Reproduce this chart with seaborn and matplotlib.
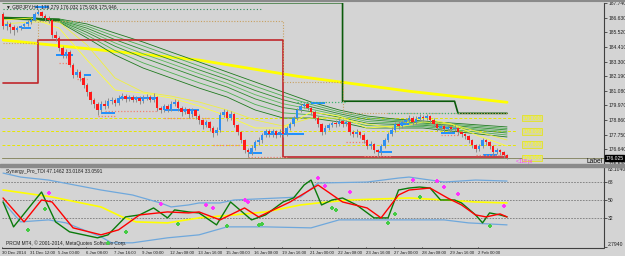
import numpy as np
import pandas as pd
import matplotlib
matplotlib.use("Agg")
import matplotlib.pyplot as plt
import seaborn as sns

sns.set_theme(style="white")
plt.rcParams['font.family'] = ['Liberation Sans', 'DejaVu Sans']

# ---------------- DATA ----------------
first_open = 186.90
closes = [185.99,186.14,185.92,185.69,185.84,185.99,186.14,186.30,186.45,186.90,
          187.06,186.75,186.60,186.45,185.31,185.08,184.32,183.79,184.01,183.03,
          182.27,182.49,182.04,181.51,180.97,180.37,180.06,179.61,180.06,179.91,
          180.29,180.37,180.14,180.52,180.67,180.44,180.59,180.37,180.52,180.29,
          180.52,180.59,180.37,180.59,179.76,179.61,179.91,179.68,180.06,180.21,
          179.76,179.45,179.68,179.30,179.61,179.15,178.84,178.46,178.69,178.24,
          177.86,178.08,179.23,179.45,179.00,179.30,178.46,177.93,177.32,176.56,
          176.41,176.72,177.17,177.32,177.70,178.01,177.78,178.01,177.70,177.93,
          177.78,178.24,178.54,179.00,179.61,179.91,180.06,179.76,179.45,179.00,
          178.54,177.93,178.24,178.46,178.62,178.54,178.77,178.54,178.69,177.93,
          177.78,177.93,177.70,177.32,176.87,177.02,176.56,176.41,176.87,177.32,
          177.78,178.08,178.54,178.39,178.69,178.84,179.00,178.69,178.92,179.07,
          179.00,179.15,178.84,178.54,178.24,178.39,178.16,178.31,178.16,178.24,
          177.93,177.78,177.63,177.32,176.94,176.64,176.87,177.32,177.17,176.87,
          176.41,176.56,176.41,176.18,175.95]
highs = [187.05,186.35,186.30,186.05,186.00,186.10,186.25,186.45,186.60,187.05,
         187.30,187.15,186.90,186.75,186.55,185.60,185.25,184.50,184.25,184.15,
         183.20,182.70,182.65,182.20,181.70,181.10,180.55,180.20,180.30,180.35,
         180.50,180.60,180.55,180.75,180.90,180.85,180.80,180.75,180.70,180.65,
         180.80,180.85,180.75,180.90,180.70,179.95,180.10,180.05,180.30,180.45,
         180.35,179.90,179.85,179.80,179.75,179.70,179.30,178.95,178.90,178.80,
         178.40,178.30,179.45,179.70,179.60,179.55,179.40,178.60,178.05,177.45,
         176.75,176.95,177.35,177.55,177.90,178.20,178.15,178.20,178.10,178.15,
         178.05,178.40,178.75,179.20,179.80,180.10,180.25,180.20,179.95,179.60,
         179.15,178.65,178.45,178.65,178.80,178.85,179.00,178.95,178.90,178.80,
         178.10,178.15,178.05,177.85,177.45,177.25,177.15,176.70,177.05,177.50,
         177.95,178.30,178.75,178.80,178.90,179.05,179.25,179.15,179.15,179.30,
         179.25,179.35,179.25,179.00,178.65,178.60,178.55,178.50,178.45,178.45,
         178.35,178.05,177.90,177.75,177.45,177.05,177.05,177.50,177.45,177.30,
         177.00,176.75,176.70,176.55,176.28]
lows = [185.80,185.70,185.50,185.31,185.55,185.70,185.85,186.00,186.15,186.35,
        186.80,186.60,186.40,186.20,185.10,184.85,184.10,183.55,183.60,182.85,
        182.05,182.10,181.80,181.30,180.70,180.10,179.80,179.23,179.45,179.70,
        179.80,180.10,179.95,180.00,180.40,180.25,180.30,180.20,180.25,180.10,
        180.15,180.35,180.20,180.25,179.55,179.40,179.45,179.50,179.55,179.95,
        179.55,179.20,179.30,179.05,179.10,178.95,178.60,178.20,178.30,178.00,
        177.60,177.70,177.95,179.10,178.80,178.85,178.30,177.75,177.10,176.35,
        176.03,176.25,176.60,177.00,177.15,177.55,177.60,177.60,177.50,177.55,
        177.60,177.65,178.10,178.40,178.90,179.45,179.75,179.60,179.25,178.85,
        178.30,177.70,177.80,178.10,178.35,178.35,178.40,178.35,178.40,177.75,
        177.55,177.60,177.50,177.10,176.65,176.70,176.35,176.03,176.25,176.75,
        177.20,177.65,177.95,178.20,178.25,178.55,178.70,178.50,178.55,178.80,
        178.80,178.85,178.65,178.35,178.05,178.10,177.95,178.00,177.95,178.00,
        177.75,177.60,177.45,177.10,176.75,176.45,176.50,176.75,176.95,176.70,
        176.20,176.30,176.20,175.95,175.93]

# moving-average ribbon, sampled every 8 bars
rib_bars = [0,8,16,24,32,40,48,56,64,72,80,88,96,104,112,120,128,136,144]
rib_1 = [186.60,186.60,186.53,186.15,185.46,184.78,184.02,183.27,182.51,181.75,180.99,180.23,179.63,179.17,178.94,178.79,178.64,178.49,178.34]
rib_2 = [186.60,186.60,186.49,185.99,185.21,184.49,183.73,182.97,182.22,181.43,180.69,180.05,179.49,179.03,178.84,178.71,178.55,178.39,178.22]
rib_3 = [186.60,186.60,186.45,185.83,184.96,184.19,183.43,182.67,181.94,181.11,180.40,179.87,179.35,178.90,178.74,178.63,178.46,178.28,178.11]
rib_4 = [186.60,186.60,186.42,185.67,184.71,183.89,183.14,182.38,181.65,180.79,180.10,179.69,179.22,178.76,178.63,178.55,178.37,178.18,177.99]
rib_5 = [186.60,186.60,186.39,185.51,184.46,183.60,182.84,182.08,181.37,180.47,179.81,179.50,179.08,178.62,178.53,178.47,178.28,178.08,177.88]
rib_6 = [186.60,186.60,186.34,185.30,184.13,183.20,182.45,181.69,180.99,180.05,179.41,179.26,178.90,178.44,178.40,178.37,178.15,177.94,177.73]
rib_7 = [186.60,186.60,186.30,185.09,183.80,182.81,182.05,181.29,180.61,179.63,179.02,179.02,178.72,178.26,178.26,178.26,178.03,177.80,177.58]

# slow yellow MA
slow_bars = [0,28,56,84,116,144]
slow_ma = [184.93,184.17,183.41,182.19,181.05,180.21]

# fast thin yellow lines
fast_bars = [0,8,16,24,32,40,48,56,64,72,80,88,96,104,112,120,128,136,144]
fast_a = [186.45,186.60,185.84,183.42,181.14,180.91,180.53,179.93,179.17,178.26,178.26,179.47,179.17,178.26,178.41,179.02,178.56,177.65,176.89]
fast_b = [186.15,186.30,186.30,184.55,182.05,180.99,180.68,180.23,179.63,178.87,178.41,179.02,179.02,178.56,178.26,178.72,178.56,177.95,177.35]

# step levels
red_step_bars = [0,10,10,80,80,144]
red_step_vals = [181.66,181.66,184.93,184.93,176.03,176.03]
green_step_bars = [0,97,97,129,130,144]
green_step_vals = [187.76,187.76,180.29,180.29,179.37,179.37]
tan_step_bars = [0,10,10,80,80,97,97,144]
tan_step_vals = [184.70,184.70,186.37,186.37,181.73,181.73,179.37,179.37]
top_dotted_bars = [0,74]
top_dotted_vals = [187.28,187.28]

# support / resistance segments
blue_start = [5,9,15,23,28,33,46,70,75,88,107,113,125,137]
blue_end =   [8,13,20,25,32,44,56,74,86,92,111,116,129,141]
blue_level = [185.84,187.44,183.79,182.27,179.38,180.52,179.60,176.40,177.78,180.13,176.41,178.60,177.86,176.20]
salmon_start = [16,21,27,29,46,60,70,98,103,125,135]
salmon_end =   [19,24,32,44,59,68,81,104,111,130,144]
salmon_level = [183.18,181.96,179.15,179.53,179.00,176.95,176.03,177.17,176.10,177.70,176.20]
gdot_start = [84,110]
gdot_end = [98,130]
gdot_level = [180.21,179.37]

level_prices = [179.0, 178.0, 177.0, 176.0]
level_labels = ["179.000", "178.000", "177.000", "176.000"]

price_ticks = [187.740,186.630,185.520,184.410,183.300,182.190,181.080,179.970,178.860,177.750,176.640,175.530]

# TDI indicator
rsi_bars = [0,3,11,15,19,27,30,35,39,43,47,49,53,56,61,65,71,75,80,83,86,88,91,94,97,101,106,110,113,116,119,122,125,129,131,135,137,139,142,144]
rsi_vals = [48,23,58,28,18,12,15,33,35,42,32,40,38,37,25,48,30,35,48,52,65,70,45,50,52,45,32,32,60,62,63,62,50,50,47,35,27,37,35,33]
sig_bars = [0,6,11,14,20,28,33,39,47,53,56,62,69,73,82,90,97,104,108,113,116,122,127,131,135,138,142,144]
sig_vals = [52,28,50,48,22,15,20,35,38,37,38,30,42,33,48,65,48,42,32,55,60,62,52,45,35,33,36,33]
base_bars = [0,14,28,34,38,47,56,66,75,85,90,99,116,126,135,144]
base_vals = [60,53,43,33,28,27,32,35,38,45,47,50,52,50,48,47]
up_bars = [0,5,13,28,37,45,48,53,56,62,66,85,90,104,113,116,122,126,135,144]
up_vals = [77,73,70,60,55,47,43,45,47,47,50,53,67,68,72,73,70,68,70,69]
lo_bars = [0,5,13,18,28,31,37,47,56,64,75,88,96,104,116,126,133,144]
lo_vals = [48,28,30,27,13,7,7,12,15,23,23,22,30,30,30,30,27,25]
sell_bars = [13,45,58,60,69,70,90,92,99,117,124,126,130,143]
sell_vals = [57,46,45,42,50,48,72,64,58,70,69,63,56,44]
buy_bars = [7,12,30,35,50,64,73,74,94,95,110,112,119,139]
buy_vals = [20,41,7,18,26,24,25,26,42,40,27,36,53,24]

date_bars = list(range(0, 137, 8))
date_labels = ["30 Dec 2014","31 Dec 12:00","5 Jan 00:00","6 Jan 08:00","7 Jan 16:00",
               "9 Jan 00:00","12 Jan 08:00","13 Jan 16:00","15 Jan 00:00","16 Jan 08:00",
               "19 Jan 16:00","21 Jan 00:00","22 Jan 08:00","23 Jan 16:00","27 Jan 00:00",
               "28 Jan 08:00","29 Jan 16:00","2 Feb 00:00"]

# ---------------- FIGURE ----------------
W, H = 625, 256
BG = '#d4d4d4'
FS = 3.6
fig = plt.figure(figsize=(W/100, H/100), dpi=100, facecolor=BG)

def fx(px): return px / W
def fy(py): return 1 - py / H

XL = (-0.3, 171.7)
ax = fig.add_axes([fx(2), fy(164), fx(602), 161/H])
ax2 = fig.add_axes([fx(2), fy(247), fx(602), 80/H])
for a in (ax, ax2):
    a.set_facecolor(BG)
    a.set_xlim(*XL)
    for s in a.spines.values():
        s.set_visible(False)
    a.spines['right'].set_visible(True)
    a.spines['right'].set_color('#404040')
    a.spines['right'].set_linewidth(0.8)
ax.set_ylim(175.53, 187.74)
ax2.set_ylim(2.794, 83.104)

n = len(closes)
bars = np.arange(n)
opens = [first_open] + closes[:-1]
df = pd.DataFrame({'bar': bars, 'open': opens, 'close': closes, 'high': highs, 'low': lows})
df['up'] = df['close'] >= df['open']

# horizontal yellow dashed levels
for lv in level_prices:
    ax.axhline(lv, xmax=(146.5 - XL[0]) / (XL[1] - XL[0]), color='#e6e600', lw=0.7, ls=(0, (3, 2)))
# bid line
ax.axhline(closes[-1], color='#8a8a6a', lw=0.7)

# slow yellow MA
sns.lineplot(x=slow_bars, y=slow_ma, ax=ax, color='#ffff00', lw=2.0, estimator=None, sort=False)

# ribbon
rib = [rib_1, rib_2, rib_3, rib_4, rib_5, rib_6, rib_7]
rcol = ['#1f7a1f', '#4caf50', '#2e8b2e', '#5cb85c', '#2e8b2e', '#4caf50', '#1f7a1f']
for r, c in zip(rib, rcol):
    sns.lineplot(x=rib_bars, y=r, ax=ax, color=c, lw=0.6, estimator=None, sort=False)
sns.lineplot(x=[0, 16], y=[186.60, 186.45], ax=ax, color='#1a6e1a', lw=2.0, estimator=None, sort=False)

# fast yellow thin
sns.lineplot(x=fast_bars, y=fast_a, ax=ax, color='#ffff33', lw=0.6, estimator=None, sort=False)
sns.lineplot(x=fast_bars, y=fast_b, ax=ax, color='#f0f040', lw=0.6, estimator=None, sort=False)

# step lines
ax.plot(red_step_bars, red_step_vals, color='#c0262b', lw=1.2)
ax.plot(green_step_bars, green_step_vals, color='#0a5a0a', lw=1.2)
ax.plot(tan_step_bars, tan_step_vals, color='#c8a060', lw=0.8, ls=(0, (1, 1.5)))
ax.plot(top_dotted_bars, top_dotted_vals, color='#2e8b57', lw=0.8, ls=(0, (1, 2)))

# S/R segments
ax.hlines(blue_level, blue_start, blue_end, color='#1e90ff', lw=1.4)
ax.hlines(salmon_level, salmon_start, salmon_end, color='#f08070', lw=0.9, ls=(0, (1, 1.5)))
ax.hlines(gdot_level, gdot_start, gdot_end, color='#3cb371', lw=0.9, ls=(0, (1, 1.5)))

# candles
ax.vlines(df['bar'], df['low'], df['high'], color='#8c8c8c', lw=0.7, zorder=4)
body_h = (df['close'] - df['open']).where((df['close'] - df['open']).abs() > 0.04, 0.04)
ax.bar(df['bar'], body_h, bottom=df['open'], width=0.72,
       color=np.where(df['up'], '#2f8ff0', '#ff1a1a'), linewidth=0, zorder=5)

# price axis
ax.yaxis.tick_right()
ax.set_yticks(price_ticks)
ax.set_yticklabels([f"{p:.3f}" for p in price_ticks], fontsize=FS, color='#202020')
ax.tick_params(axis='y', length=2, width=0.5, pad=1, colors='#202020', labelcolor='#202020')
ax.set_xticks([])
ax.set_xlabel(''); ax.set_ylabel('')

# level labels
for lv, lb in zip(level_prices, level_labels):
    ax.text(148.6, lv, lb, fontsize=FS, color='#ffff00', va='center', ha='left',
            bbox=dict(boxstyle='square,pad=0.15', fc='#d6d6a8', ec='#e8e800', lw=0.5))
ax.text(146.5, 175.72, "<118 pi", fontsize=FS, color='#ff33ff', va='center', ha='left')
ax.text(171.4, 175.72, "Label", fontsize=4.8, color='#101010', va='center', ha='right')
ax.text(172.1, closes[-1], "176.025", fontsize=FS, color='white', va='center', ha='left',
        bbox=dict(boxstyle='square,pad=0.1', fc='black', ec='black'), clip_on=False)
ax.text(0.8, 187.42, "\u25BC GBPJPY,H4  176.279 176.032 175.929 175.946", fontsize=3.5,
        color='#202020', va='center', ha='left')

# ---------------- INDICATOR ----------------
for lv in (68, 50, 32):
    ax2.axhline(lv, color='#7a7a7a', lw=0.6, ls=(0, (2, 1.5)))
sns.lineplot(x=up_bars, y=up_vals, ax=ax2, color='#6fa8dc', lw=0.9, estimator=None, sort=False)
sns.lineplot(x=lo_bars, y=lo_vals, ax=ax2, color='#6fa8dc', lw=0.9, estimator=None, sort=False)
sns.lineplot(x=base_bars, y=base_vals, ax=ax2, color='#ffff00', lw=1.2, estimator=None, sort=False)
sns.lineplot(x=rsi_bars, y=rsi_vals, ax=ax2, color='#0a7a0a', lw=1.0, estimator=None, sort=False)
sns.lineplot(x=sig_bars, y=sig_vals, ax=ax2, color='#ff0000', lw=1.0, estimator=None, sort=False)
sns.scatterplot(x=sell_bars, y=sell_vals, ax=ax2, color='#ff33ff', marker='P', s=10, linewidth=0, zorder=6)
sns.scatterplot(x=buy_bars, y=buy_vals, ax=ax2, color='#44cc44', marker='P', s=10, linewidth=0, zorder=6)

ax2.yaxis.tick_right()
ax2.set_yticks([83.104, 68, 50, 32, 2.794])
ax2.set_yticklabels(['83.1040', '68', '50', '32', '2.7940'], fontsize=FS, color='#202020')
ax2.tick_params(axis='y', length=2, width=0.5, pad=1, colors='#202020', labelcolor='#202020')
lbls = ax2.get_yticklabels()
lbls[0].set_va('top'); lbls[-1].set_va('bottom')
ax2.set_xticks([])
ax2.set_xlabel(''); ax2.set_ylabel('')
ax2.text(0.8, 79.0, "Synergy_Pro_TDI 47.1462 33.0184 33.0591", fontsize=3.5, color='#202020', va='center')
ax2.text(0.8, 6.5, "PRCM MT4, \u00a9 2001-2014, MetaQuotes Software Corp.", fontsize=3.5, color='#202020', va='center')

for b, lb in zip(date_bars, date_labels):
    ax2.text(b - 0.3, -3.2, lb, fontsize=3.1, color='#202020', va='center', ha='left', clip_on=False)
    ax2.plot([b - 0.3, b - 0.3], [2.794, 1.5], color='#404040', lw=0.5, clip_on=False)

# separators
fig.add_artist(plt.Rectangle((0, fy(167)), 1, 3/H, color='#8a8a8a', transform=fig.transFigure))
fig.add_artist(plt.Line2D([fx(2), fx(604)], [fy(247.5), fy(247.5)], color='#404040', lw=0.8))
fig.add_artist(plt.Line2D([0, 1], [fy(1), fy(1)], color='#8a8a8a', lw=1.5))

fig.savefig('out.png', dpi=100, facecolor=BG)
